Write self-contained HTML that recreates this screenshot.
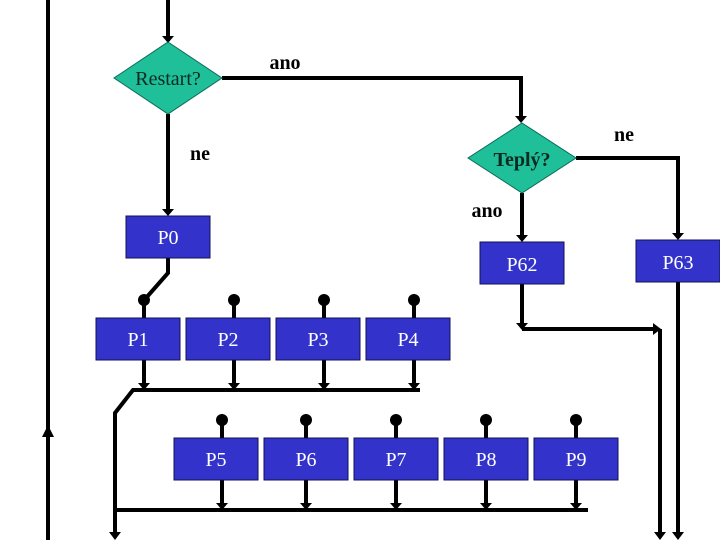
<!DOCTYPE html>
<html><head><style>html,body{margin:0;padding:0;background:#fff;}svg{display:block}</style></head>
<body>
<svg width="720" height="540" viewBox="0 0 720 540" xmlns="http://www.w3.org/2000/svg">
<defs>
<marker id="a" markerWidth="8" markerHeight="8" refX="4" refY="4" orient="auto" markerUnits="userSpaceOnUse"><path d="M0,0 L8,4 L0,8 Z" fill="#000"/></marker>
</defs>
<g stroke="#000" stroke-width="4" fill="none">
<!-- left return line -->
<line x1="48" y1="540" x2="48" y2="0"/>
<path d="M42,437 L48,425 L54,437 Z" fill="#000" stroke="none"/>
<!-- top -->
<line x1="168" y1="0" x2="168" y2="36"/>
<line x1="168" y1="114" x2="168" y2="209"/>
<polyline points="222,78 521,78 521,116"/>
<polyline points="576,158 678,158 678,233"/>
<line x1="522" y1="193" x2="522" y2="235"/>
<!-- P0 to P1 -->
<polyline points="168,258 168,273 146,298"/>
<!-- row1 feeds -->
<line x1="144" y1="300" x2="144" y2="318"/><line x1="234" y1="300" x2="234" y2="318"/>
<line x1="324" y1="300" x2="324" y2="318"/><line x1="414" y1="300" x2="414" y2="318"/>
<line x1="144" y1="360" x2="144" y2="383"/><line x1="234" y1="360" x2="234" y2="383"/>
<line x1="324" y1="360" x2="324" y2="383"/><line x1="414" y1="360" x2="414" y2="383"/>
<polyline points="420,390 133,390 115,413 115,532"/>
<!-- row2 -->
<line x1="222" y1="420" x2="222" y2="438"/><line x1="306" y1="420" x2="306" y2="438"/>
<line x1="396" y1="420" x2="396" y2="438"/><line x1="486" y1="420" x2="486" y2="438"/>
<line x1="576" y1="420" x2="576" y2="438"/>
<line x1="222" y1="480" x2="222" y2="503"/><line x1="306" y1="480" x2="306" y2="503"/>
<line x1="396" y1="480" x2="396" y2="503"/><line x1="486" y1="480" x2="486" y2="503"/>
<line x1="576" y1="480" x2="576" y2="503"/>
<line x1="115" y1="510" x2="588" y2="510"/>
<!-- P62/P63 -->
<line x1="522" y1="284" x2="522" y2="323"/>
<line x1="522" y1="329" x2="653" y2="329"/>
<line x1="660" y1="329" x2="660" y2="532"/>
<line x1="678" y1="282" x2="678" y2="532"/>
</g>
<g fill="#000">
<path d="M162,36 L174,36 L168,43 Z"/><path d="M162,209 L174,209 L168,216 Z"/>
<path d="M515,116 L527,116 L521,123 Z"/><path d="M672,233 L684,233 L678,240 Z"/>
<path d="M516,235 L528,235 L522,242 Z"/>
<path d="M138,383 L150,383 L144,390 Z"/><path d="M228,383 L240,383 L234,390 Z"/>
<path d="M318,383 L330,383 L324,390 Z"/><path d="M408,383 L420,383 L414,390 Z"/>
<path d="M216,503 L228,503 L222,510 Z"/><path d="M300,503 L312,503 L306,510 Z"/>
<path d="M390,503 L402,503 L396,510 Z"/><path d="M480,503 L492,503 L486,510 Z"/>
<path d="M570,503 L582,503 L576,510 Z"/>
<path d="M109,532 L121,532 L115,540 Z"/><path d="M654,532 L666,532 L660,540 Z"/>
<path d="M672,532 L684,532 L678,540 Z"/>
<path d="M516,323 L528,323 L522,330 Z"/><path d="M653,323 L661,329 L653,335 Z"/>
<circle cx="144" cy="300" r="6"/><circle cx="234" cy="300" r="6"/><circle cx="324" cy="300" r="6"/><circle cx="414" cy="300" r="6"/>
<circle cx="222" cy="420" r="6"/><circle cx="306" cy="420" r="6"/><circle cx="396" cy="420" r="6"/><circle cx="486" cy="420" r="6"/><circle cx="576" cy="420" r="6"/>
</g>
<g fill="#1fbf9a" stroke="#0a6a55" stroke-width="1">
<polygon points="168,42 222,78 168,114 114,78"/>
<polygon points="522,123 576,158 522,193 468,158"/>
</g>
<g fill="#3333cc" stroke="#101050" stroke-width="1">
<rect x="126" y="216" width="84" height="42"/>
<rect x="480" y="242" width="84" height="42"/>
<rect x="636" y="240" width="84" height="42"/>
<rect x="96" y="318" width="84" height="42"/><rect x="186" y="318" width="84" height="42"/>
<rect x="276" y="318" width="84" height="42"/><rect x="366" y="318" width="84" height="42"/>
<rect x="174" y="438" width="84" height="42"/><rect x="264" y="438" width="84" height="42"/>
<rect x="354" y="438" width="84" height="42"/><rect x="444" y="438" width="84" height="42"/>
<rect x="534" y="438" width="84" height="42"/>
</g>
<g font-family="Liberation Serif, serif" font-size="20" text-anchor="middle">
<text x="168" y="85" fill="#0a2a20">Restart?</text>
<text x="522" y="166" fill="#0a2a20" font-weight="bold">Teplý?</text>
<g font-weight="bold" fill="#000">
<text x="285" y="69">ano</text><text x="200" y="160">ne</text>
<text x="624" y="141">ne</text><text x="487" y="217">ano</text>
</g>
<g fill="#fff">
<text x="168" y="244">P0</text><text x="522" y="271">P62</text><text x="678" y="269">P63</text>
<text x="138" y="346">P1</text><text x="228" y="346">P2</text><text x="318" y="346">P3</text><text x="408" y="346">P4</text>
<text x="216" y="466">P5</text><text x="306" y="466">P6</text><text x="396" y="466">P7</text><text x="486" y="466">P8</text><text x="576" y="466">P9</text>
</g>
</g>
</svg>
</body></html>
